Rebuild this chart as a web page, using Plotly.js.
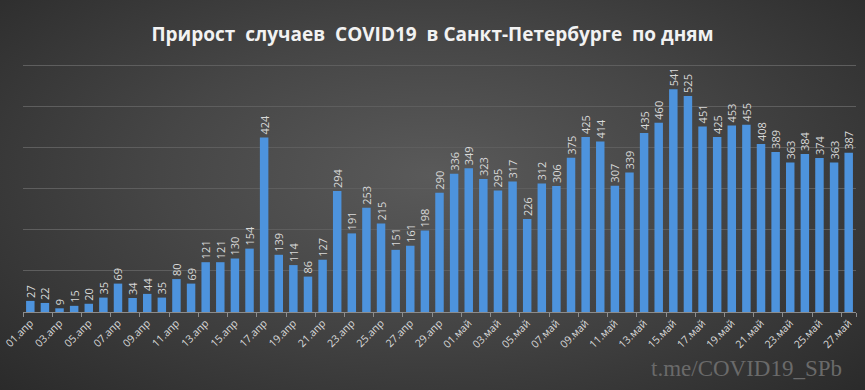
<!DOCTYPE html>
<html>
<head>
<meta charset="utf-8">
<script src="https://cdn.plot.ly/plotly-3.0.1.min.js"></script>
<style>
html,body{margin:0;padding:0;width:865px;height:390px;overflow:hidden;}
body{background:radial-gradient(ellipse 70% 80% at 50% 45%, #5a5a5a 0%, #464646 45%, #2a2a2a 100%);}
#chart{width:865px;height:390px;}
</style>
</head>
<body>
<div id="chart"></div>
<script>
var categories = [
"01.апр","02.апр","03.апр","04.апр","05.апр","06.апр","07.апр","08.апр","09.апр","10.апр",
"11.апр","12.апр","13.апр","14.апр","15.апр","16.апр","17.апр","18.апр","19.апр","20.апр",
"21.апр","22.апр","23.апр","24.апр","25.апр","26.апр","27.апр","28.апр","29.апр","30.апр",
"01.май","02.май","03.май","04.май","05.май","06.май","07.май","08.май","09.май","10.май",
"11.май","12.май","13.май","14.май","15.май","16.май","17.май","18.май","19.май","20.май",
"21.май","22.май","23.май","24.май","25.май","26.май","27.май"];
var values = [27,22,9,15,20,35,69,34,44,35,80,69,121,121,130,154,424,139,114,86,
127,294,191,253,215,151,161,198,290,336,349,323,295,317,226,312,306,375,425,414,
307,339,435,460,541,525,451,425,453,455,408,389,363,384,374,363,387];
var tickLabels = categories.filter(function(c,i){return i%2===0;});
var gridValues = [100, 200, 300, 400, 500, 600];
var titleText = "Прирост  случаев  COVID19  в Санкт-Петербурге  по дням";
var watermark = "t.me/COVID19_SPb";

var boundaryVals = [];
for (var i = 0; i < categories.length; i += 2) boundaryVals.push(i - 0.5);
boundaryVals.push(categories.length - 0.5);

var trace = {
  type: "bar",
  x: categories,
  y: values,
  text: values.map(String),
  textposition: "outside",
  textangle: -90,
  constraintext: "none",
  cliponaxis: false,
  textfont: {family: "Open Sans, sans-serif", size: 11, color: "#d9d9d9"},
  marker: {color: "#4d93dd", line: {width: 0}},
  hoverinfo: "x+y"
};
var ghost = {
  type: "scatter", mode: "markers", x: [0], y: [0], xaxis: "x2",
  marker: {opacity: 0}, hoverinfo: "skip", showlegend: false
};

var layout = {
  width: 865, height: 390,
  paper_bgcolor: "rgba(0,0,0,0)",
  plot_bgcolor: "rgba(0,0,0,0)",
  margin: {l: 23, r: 9, t: 63, b: 78},
  showlegend: false,
  bargap: 0.42,
  title: {
    text: "<b>" + titleText + "</b>",
    x: 0.5, xanchor: "center", y: 0.912, yanchor: "middle",
    font: {family: "Open Sans, sans-serif", size: 19, color: "#f2f2f2"}
  },
  xaxis: {
    type: "category",
    tickmode: "array",
    tickvals: tickLabels,
    ticktext: tickLabels,
    tickangle: -45,
    ticks: "",
    showgrid: false,
    showline: true, linecolor: "#8c8c8c", linewidth: 1,
    tickfont: {family: "Open Sans, sans-serif", size: 10.5, color: "#d9d9d9"},
    fixedrange: true
  },
  xaxis2: {
    overlaying: "x",
    type: "linear",
    range: [-0.5, categories.length - 0.5],
    tickmode: "array",
    tickvals: boundaryVals,
    ticktext: boundaryVals.map(function(){return "";}),
    ticks: "outside", ticklen: 4, tickcolor: "#8c8c8c", tickwidth: 1,
    showgrid: false, zeroline: false, showline: false,
    side: "bottom", showticklabels: false
  },
  yaxis: {
    range: [0, 605],
    tickmode: "array",
    tickvals: gridValues,
    showticklabels: false,
    showgrid: true, gridcolor: "#5e5e5e", gridwidth: 1,
    zeroline: false, showline: false, ticks: "",
    fixedrange: true
  },
  annotations: [{
    text: watermark, xref: "paper", yref: "paper",
    x: 0.985, y: -0.225, xanchor: "right", yanchor: "middle",
    showarrow: false,
    font: {family: "Liberation Serif, DejaVu Serif, serif", size: 23, color: "#6a6a6a"}
  }]
};

Plotly.newPlot("chart", [trace, ghost], layout, {displayModeBar: false, staticPlot: true});
</script>
</body>
</html>
